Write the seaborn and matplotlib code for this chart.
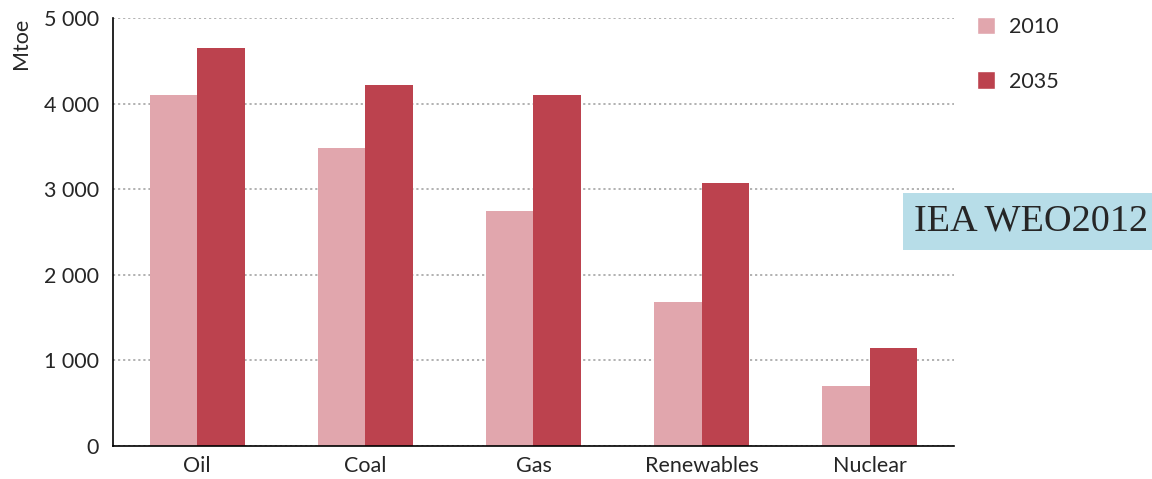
import pandas as pd
import matplotlib
matplotlib.use("Agg")
import matplotlib.pyplot as plt
import seaborn as sns
from matplotlib.patches import Patch

# data
fuels = ["Oil", "Coal", "Gas", "Renewables", "Nuclear"]
demand_2010 = [4100, 3480, 2745, 1680, 700]
demand_2035 = [4650, 4215, 4100, 3070, 1145]
years = ["2010", "2035"]
y_ticks = [0, 1000, 2000, 3000, 4000, 5000]
y_tick_labels = ["0", "1 000", "2 000", "3 000", "4 000", "5 000"]

COL_2010 = "#E1A6AD"
COL_2035 = "#BC424E"

df = pd.DataFrame({
    "Fuel": fuels * 2,
    "Year": [years[0]] * len(fuels) + [years[1]] * len(fuels),
    "Mtoe": demand_2010 + demand_2035,
})

sns.set_style("white")
plt.rcParams['font.family'] = ['Lato', 'DejaVu Sans']
FS = 15.5

fig = plt.figure(figsize=(11.52, 4.79), dpi=100)
ax = fig.add_axes([0.0981, 0.0689, 0.7300, 0.8935])

sns.barplot(data=df, x="Fuel", y="Mtoe", hue="Year", order=fuels, hue_order=years,
            palette=[COL_2010, COL_2035], width=0.565, saturation=1, legend=False,
            linewidth=0, ax=ax)

ax.set_xlim(-0.5, len(fuels) - 0.5)
ax.set_ylim(0, 5000)
ax.set_yticks(y_ticks)
ax.set_yticklabels(y_tick_labels, fontsize=FS)
ax.set_xticks(range(len(fuels)))
ax.set_xticklabels(fuels, fontsize=FS)
ax.set_xticks([i - 0.5 for i in range(len(fuels) + 1)], minor=True)
ax.tick_params(axis='x', which='major', length=0, pad=7)
ax.tick_params(axis='x', which='minor', length=6, width=1.2, color='black', direction='out')
ax.tick_params(axis='y', length=6, width=1.2, color='black', direction='out', pad=4)
ax.set_xlabel("")
ax.set_ylabel("Mtoe", fontsize=FS)
ax.yaxis.set_label_coords(-0.098, 0.94)

ax.yaxis.grid(True, color='#ABABAB', linestyle=(0, (1.2, 1.6)), linewidth=1.3)
ax.set_axisbelow(True)
for s in ['top', 'right']:
    ax.spines[s].set_visible(False)
for s in ['left', 'bottom']:
    ax.spines[s].set_color('black')
    ax.spines[s].set_linewidth(1.2)

handles = [Patch(facecolor=COL_2010, label=years[0]), Patch(facecolor=COL_2035, label=years[1])]
fig.legend(handles=handles, loc='upper left', bbox_to_anchor=(0.831, 1.005), frameon=False,
           fontsize=FS, handlelength=0.85, handleheight=0.85, handletextpad=0.65, labelspacing=1.6)

fig.text(0.9965, 0.538, "IEA WEO2012", ha='right', va='center', fontsize=27.5,
         family=['Liberation Serif'],
         bbox=dict(facecolor='#B7DDE8', edgecolor='none', pad=8))

fig.savefig("out.png", dpi=100)
